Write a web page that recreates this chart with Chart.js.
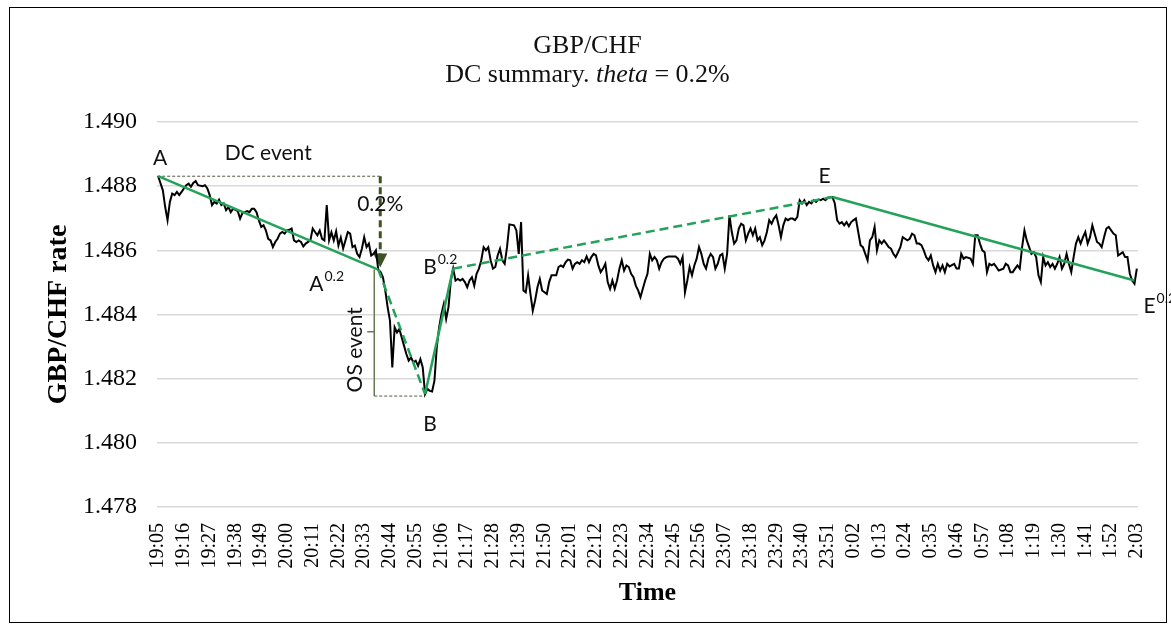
<!DOCTYPE html>
<html>
<head>
<meta charset="utf-8">
<title>GBP/CHF DC summary</title>
<script src="https://cdn.jsdelivr.net/npm/chart.js@4.4.1/dist/chart.umd.min.js"></script>
<style>
  html, body { margin: 0; padding: 0; background: #fff; }
</style>
</head>
<body>
<canvas id="chart" width="1171" height="633"></canvas>
<script>
// minutes after 19:05 and the GBP/CHF rate
const minutes = [
  0, 2, 3, 4, 5, 6, 7, 8, 9, 10, 11, 12, 13, 14, 15, 16, 17, 19, 20, 21,
  22, 23, 24, 25, 26, 27, 28, 29, 30, 31, 32, 34, 35, 36, 37, 38, 39, 40, 41, 42,
  43, 44, 45, 46, 47, 48, 49, 50, 51, 52, 53, 54, 55, 56, 57, 58, 59, 60, 61, 62,
  63, 65, 66, 67, 68, 69, 70, 71, 72, 73, 74, 75, 76, 77, 78, 79, 80, 81, 82, 83,
  84, 85, 86, 87, 88, 89, 90, 91, 92, 93, 94, 95, 96, 97, 98, 99, 100, 101, 102, 103,
  104, 105, 106, 107, 108, 109, 110, 111, 112, 113, 114, 115, 116, 117, 118, 119, 120, 121, 122, 123,
  124, 125, 126, 127, 128, 129, 130, 131, 132, 133, 134, 135, 136, 137, 138, 139, 140, 141, 142, 143,
  144, 145, 146, 147, 148, 149, 150, 152, 153, 154, 155, 156, 157, 158, 159, 160, 161, 162, 163, 164,
  166, 167, 168, 170, 171, 172, 173, 174, 175, 176, 177, 178, 179, 180, 181, 182, 183, 184, 185, 186,
  187, 188, 189, 190, 191, 192, 193, 194, 195, 196, 197, 198, 199, 200, 201, 202, 203, 204, 205, 206,
  207, 208, 209, 210, 211, 212, 213, 214, 215, 216, 217, 218, 219, 221, 222, 223, 224, 225, 226, 227,
  228, 229, 230, 231, 232, 233, 234, 235, 236, 237, 238, 239, 240, 241, 242, 243, 244, 245, 246, 247,
  248, 249, 250, 251, 252, 253, 254, 255, 256, 257, 258, 259, 260, 261, 262, 263, 264, 265, 266, 267,
  268, 269, 270, 271, 272, 273, 274, 275, 276, 277, 278, 279, 280, 281, 282, 283, 284, 285, 286, 288,
  289, 290, 291, 292, 293, 294, 295, 296, 297, 298, 300, 301, 303, 304, 305, 306, 307, 308, 309, 310,
  311, 312, 313, 314, 315, 316, 317, 318, 319, 320, 321, 322, 323, 324, 325, 326, 327, 328, 329, 330,
  331, 332, 333, 334, 335, 336, 337, 338, 340, 341, 342, 343, 344, 345, 347, 348, 349, 350, 351, 352,
  353, 354, 355, 356, 357, 358, 359, 361, 362, 363, 364, 365, 366, 367, 368, 369, 370, 371, 372, 373,
  374, 375, 376, 377, 378, 379, 380, 381, 382, 383, 384, 385, 386, 387, 388, 389, 390, 391, 392, 393,
  394, 395, 396, 397, 398, 399, 400, 401, 402, 403, 404, 405, 406, 408, 409, 410, 411, 412, 413, 414,
  415, 416, 417, 418
];
const rates = [
  1.48831, 1.48787, 1.48735, 1.48694, 1.48751, 1.48777, 1.48772, 1.48782, 1.48772, 1.48782,
  1.48793, 1.48803, 1.48808, 1.48798, 1.48810, 1.48816, 1.48803, 1.48800, 1.48803, 1.48793,
  1.48772, 1.48741, 1.48751, 1.48746, 1.48758, 1.48741, 1.48746, 1.48725, 1.48735, 1.48719,
  1.48730, 1.48722, 1.48699, 1.48716, 1.48719, 1.48722, 1.48719, 1.48730, 1.48730, 1.48719,
  1.48694, 1.48673, 1.48678, 1.48662, 1.48636, 1.48631, 1.48610, 1.48626, 1.48636, 1.48652,
  1.48657, 1.48652, 1.48662, 1.48664, 1.48668, 1.48631, 1.48626, 1.48631, 1.48626, 1.48612,
  1.48621, 1.48631, 1.48668, 1.48657, 1.48647, 1.48662, 1.48636, 1.48631, 1.48741, 1.48631,
  1.48656, 1.48631, 1.48659, 1.48615, 1.48640, 1.48606, 1.48631, 1.48657, 1.48652, 1.48610,
  1.48615, 1.48589, 1.48579, 1.48605, 1.48641, 1.48610, 1.48621, 1.48584, 1.48589, 1.48600,
  1.48540, 1.48532, 1.48516, 1.48475, 1.48423, 1.48381, 1.48235, 1.48360, 1.48344, 1.48355,
  1.48329, 1.48303, 1.48277, 1.48256, 1.48266, 1.48251, 1.48256, 1.48240, 1.48261, 1.48235,
  1.48152, 1.48168, 1.48162, 1.48160, 1.48194, 1.48298, 1.48360, 1.48402, 1.48433, 1.48386,
  1.48423, 1.48506, 1.48543, 1.48506, 1.48511, 1.48506, 1.48511, 1.48501, 1.48485, 1.48506,
  1.48516, 1.48490, 1.48527, 1.48543, 1.48569, 1.48610, 1.48600, 1.48610, 1.48569, 1.48543,
  1.48548, 1.48584, 1.48605, 1.48569, 1.48558, 1.48610, 1.48681, 1.48678, 1.48662, 1.48589,
  1.48688, 1.48475, 1.48469, 1.48522, 1.48464, 1.48412, 1.48444, 1.48485, 1.48511, 1.48475,
  1.48464, 1.48501, 1.48522, 1.48522, 1.48548, 1.48553, 1.48548, 1.48563, 1.48571, 1.48569,
  1.48543, 1.48558, 1.48563, 1.48558, 1.48569, 1.48563, 1.48581, 1.48563, 1.48579, 1.48589,
  1.48584, 1.48553, 1.48532, 1.48543, 1.48558, 1.48501, 1.48480, 1.48506, 1.48480, 1.48506,
  1.48543, 1.48569, 1.48537, 1.48553, 1.48548, 1.48527, 1.48516, 1.48490, 1.48475, 1.48454,
  1.48480, 1.48506, 1.48527, 1.48589, 1.48569, 1.48579, 1.48569, 1.48543, 1.48563, 1.48574,
  1.48579, 1.48581, 1.48581, 1.48581, 1.48574, 1.48558, 1.48579, 1.48469, 1.48506, 1.48548,
  1.48522, 1.48553, 1.48574, 1.48610, 1.48589, 1.48558, 1.48543, 1.48574, 1.48589, 1.48579,
  1.48543, 1.48558, 1.48584, 1.48589, 1.48543, 1.48589, 1.48709, 1.48657, 1.48621, 1.48631,
  1.48668, 1.48683, 1.48678, 1.48631, 1.48652, 1.48668, 1.48647, 1.48668, 1.48631, 1.48641,
  1.48616, 1.48631, 1.48657, 1.48694, 1.48683, 1.48699, 1.48709, 1.48678, 1.48641, 1.48678,
  1.48699, 1.48694, 1.48699, 1.48699, 1.48694, 1.48704, 1.48756, 1.48746, 1.48756, 1.48741,
  1.48751, 1.48746, 1.48756, 1.48751, 1.48758, 1.48756, 1.48761, 1.48756, 1.48764, 1.48766,
  1.48746, 1.48694, 1.48683, 1.48688, 1.48678, 1.48688, 1.48675, 1.48688, 1.48694, 1.48699,
  1.48616, 1.48610, 1.48569, 1.48631, 1.48641, 1.48673, 1.48600, 1.48631, 1.48621, 1.48631,
  1.48621, 1.48610, 1.48605, 1.48589, 1.48579, 1.48594, 1.48610, 1.48641, 1.48636, 1.48631,
  1.48636, 1.48652, 1.48647, 1.48621, 1.48621, 1.48616, 1.48600, 1.48579, 1.48569, 1.48584,
  1.48553, 1.48532, 1.48558, 1.48537, 1.48553, 1.48532, 1.48558, 1.48550, 1.48558, 1.48543,
  1.48543, 1.48589, 1.48574, 1.48579, 1.48574, 1.48558, 1.48647, 1.48647, 1.48621, 1.48600,
  1.48594, 1.48532, 1.48558, 1.48553, 1.48558, 1.48548, 1.48537, 1.48543, 1.48558, 1.48553,
  1.48532, 1.48532, 1.48543, 1.48553, 1.48543, 1.48610, 1.48662, 1.48631, 1.48610, 1.48589,
  1.48594, 1.48579, 1.48522, 1.48501, 1.48579, 1.48553, 1.48563, 1.48548, 1.48558, 1.48543,
  1.48558, 1.48579, 1.48543, 1.48558, 1.48589, 1.48558, 1.48532, 1.48579, 1.48621, 1.48641,
  1.48621, 1.48641, 1.48657, 1.48621, 1.48641, 1.48678, 1.48652, 1.48626, 1.48621, 1.48610,
  1.48641, 1.48668, 1.48673, 1.48652, 1.48647, 1.48584, 1.48589, 1.48594, 1.48579, 1.48579,
  1.48527, 1.48506, 1.48496, 1.48543
];

// directional change points: A, A^0.2, B, B^0.2, E, E^0.2
const dcNames = ['A', 'A', 'B', 'B', 'E', 'E'];
const dcSup = ['', '0.2', '', '0.2', '', '0.2'];
const dcMinutes = [0, 94, 114, 126, 288, 417];
const dcRates = [1.48831, 1.48540, 1.48152, 1.48543, 1.48766, 1.48506];

const tickLabels = [
  '19:05', '19:16', '19:27', '19:38', '19:49', '20:00', '20:11', '20:22', '20:33', '20:44',
  '20:55', '21:06', '21:17', '21:28', '21:39', '21:50', '22:01', '22:12', '22:23', '22:34',
  '22:45', '22:56', '23:07', '23:18', '23:29', '23:40', '23:51', '0:02', '0:13', '0:24',
  '0:35', '0:46', '0:57', '1:08', '1:19', '1:30', '1:41', '1:52', '2:03'
];
const yTicks = [1.478, 1.480, 1.482, 1.484, 1.486, 1.488, 1.490];

function minutesFrom(label) {
  const parts = label.split(':').map(Number);
  return (parts[0] * 60 + parts[1] - (19 * 60 + 5) + 1440) % 1440;
}
const tickMinutes = tickLabels.map(minutesFrom);

const GREEN = '#25a25a';
const OLIVE = '#3b5422';
const SERIF = '"Liberation Serif", "Times New Roman", serif';
const SANS = 'Lato, "Open Sans", sans-serif';

function labelWithSup(ctx, base, sup, x, y, align) {
  ctx.font = '21px ' + SANS;
  const w1 = ctx.measureText(base).width;
  ctx.font = '14px ' + SANS;
  const w2 = sup ? ctx.measureText(sup).width + 1 : 0;
  let left = x;
  if (align === 'center') left = x - (w1 + w2) / 2;
  if (align === 'right') left = x - (w1 + w2);
  ctx.textAlign = 'left';
  ctx.font = '21px ' + SANS;
  ctx.fillText(base, left, y);
  if (sup) {
    ctx.font = '14px ' + SANS;
    ctx.fillText(sup, left + w1 + 1, y - 10);
  }
}

const dcAnnotations = {
  id: 'dcAnnotations',
  beforeDraw(chart) {
    const ctx = chart.ctx;
    ctx.save();
    ctx.fillStyle = '#fff';
    ctx.fillRect(0, 0, chart.width, chart.height);
    ctx.restore();
  },
  beforeDatasetsDraw(chart) {
    const {ctx, scales: {x, y}} = chart;
    const px = i => x.getPixelForValue(dcMinutes[i]);
    const py = i => y.getPixelForValue(dcRates[i]);
    ctx.save();
    // DC event: dashed line from A across, then arrow down to A^0.2
    const arrowX = px(1) + 2;
    ctx.strokeStyle = '#55553f';
    ctx.lineWidth = 1;
    ctx.setLineDash([3, 2]);
    ctx.beginPath();
    ctx.moveTo(px(0) - 1, py(0));
    ctx.lineTo(arrowX, py(0));
    ctx.stroke();
    ctx.strokeStyle = OLIVE;
    ctx.lineWidth = 3;
    ctx.setLineDash([7, 4]);
    ctx.beginPath();
    ctx.moveTo(arrowX, py(0));
    ctx.lineTo(arrowX, py(1) - 14);
    ctx.stroke();
    ctx.setLineDash([]);
    ctx.fillStyle = OLIVE;
    ctx.beginPath();
    ctx.moveTo(arrowX - 7, py(1) - 16);
    ctx.lineTo(arrowX + 7, py(1) - 16);
    ctx.lineTo(arrowX, py(1) - 2);
    ctx.closePath();
    ctx.fill();
    // OS event bracket
    const bx = px(1) - 4;
    ctx.strokeStyle = '#6b7a55';
    ctx.lineWidth = 1.5;
    ctx.beginPath();
    ctx.moveTo(bx, py(1));
    ctx.lineTo(bx, py(2) + 2);
    const mid = (py(1) + py(2)) / 2;
    ctx.moveTo(bx, mid);
    ctx.lineTo(bx - 7, mid);
    ctx.stroke();
    ctx.strokeStyle = '#55553f';
    ctx.lineWidth = 1;
    ctx.setLineDash([3, 2]);
    ctx.beginPath();
    ctx.moveTo(bx, py(2) + 2);
    ctx.lineTo(px(2), py(2) + 2);
    ctx.stroke();
    ctx.restore();
  },
  afterDraw(chart) {
    const {ctx, scales: {x, y}} = chart;
    const px = i => x.getPixelForValue(dcMinutes[i]);
    const py = i => y.getPixelForValue(dcRates[i]);
    ctx.save();
    ctx.fillStyle = '#111';
    ctx.textBaseline = 'alphabetic';

    // title, second line with italic theta
    ctx.textAlign = 'center';
    ctx.font = '26px ' + SERIF;
    const cx = chart.width / 2 + 2;
    ctx.fillText('GBP/CHF', cx, 53);
    const parts = [['DC summary. ', ''], ['theta', 'italic '], [' = 0.2%', '']];
    let total = 0;
    parts.forEach(p => { ctx.font = p[1] + '26px ' + SERIF; total += ctx.measureText(p[0]).width; });
    let left = cx - total / 2;
    ctx.textAlign = 'left';
    parts.forEach(p => {
      ctx.font = p[1] + '26px ' + SERIF;
      ctx.fillText(p[0], left, 82);
      left += ctx.measureText(p[0]).width;
    });

    // point labels
    labelWithSup(ctx, dcNames[0], dcSup[0], px(0) + 2, py(0) - 11, 'center');
    labelWithSup(ctx, dcNames[1], dcSup[1], px(1) - 69, py(1) + 21, 'left');
    labelWithSup(ctx, dcNames[2], dcSup[2], px(2) + 5, py(2) + 37, 'center');
    labelWithSup(ctx, dcNames[3], dcSup[3], px(3) - 30, py(3) + 5, 'left');
    labelWithSup(ctx, dcNames[4], dcSup[4], px(4) - 8, py(4) - 14, 'center');
    labelWithSup(ctx, dcNames[5], dcSup[5], px(5) + 9, py(5) + 33, 'left');

    ctx.font = '21px ' + SANS;
    ctx.textAlign = 'center';
    ctx.fillText('DC event', (px(0) + px(1)) / 2, py(0) - 16);
    ctx.fillText('0.2%', px(1) + 2, (py(0) + py(1)) / 2 - 12);

    ctx.save();
    ctx.translate(px(1) - 23, (py(1) + py(2)) / 2 + 18);
    ctx.rotate(-Math.PI / 2);
    ctx.textBaseline = 'middle';
    ctx.fillText('OS event', 0, 0);
    ctx.restore();

    // outer frame
    ctx.strokeStyle = '#000';
    ctx.lineWidth = 1;
    ctx.strokeRect(9.5, 7.5, 1157, 615);
    ctx.restore();
  }
};

new Chart(document.getElementById('chart'), {
  type: 'line',
  data: {
    datasets: [{
      label: 'DC summary',
      data: dcMinutes.map((m, i) => ({x: m, y: dcRates[i]})),
      borderColor: GREEN,
      borderWidth: 2.5,
      pointRadius: 0,
      segment: {
        borderDash: c => (c.p0DataIndex === 1 || c.p0DataIndex === 3) ? [9, 5] : undefined
      }
    }, {
      label: 'GBP/CHF',
      data: minutes.map((m, i) => ({x: m, y: rates[i]})),
      borderColor: '#000',
      borderWidth: 2,
      pointRadius: 0
    }]
  },
  options: {
    responsive: false,
    animation: false,
    layout: { padding: { top: 122, right: 33, bottom: 0, left: 0 } },
    plugins: { legend: { display: false }, tooltip: { enabled: false } },
    scales: {
      x: {
        type: 'linear',
        min: -0.5,
        max: 418.5,
        afterBuildTicks: s => { s.ticks = tickMinutes.map(v => ({value: v})); },
        afterFit: s => { s.height = 126; },
        grid: { display: false },
        border: { display: false },
        ticks: {
          autoSkip: false,
          minRotation: 90,
          maxRotation: 90,
          padding: 8,
          color: '#000',
          font: { family: SERIF, size: 20 },
          callback: (v, i) => tickLabels[i]
        },
        title: {
          display: true,
          text: 'Time',
          color: '#000',
          font: { family: SERIF, size: 26, weight: 'bold' },
          padding: { top: 0, bottom: 24 }
        }
      },
      y: {
        min: 1.478,
        max: 1.490,
        afterBuildTicks: s => { s.ticks = yTicks.map(v => ({value: v})); },
        afterFit: s => { s.width = 157; },
        grid: { color: '#d9d9d9', lineWidth: 1.5, drawTicks: false },
        border: { display: false },
        ticks: {
          padding: 20,
          color: '#000',
          font: { family: SERIF, size: 24 },
          callback: v => v.toFixed(3)
        },
        title: {
          display: true,
          text: 'GBP/CHF rate',
          color: '#000',
          font: { family: SERIF, size: 28, weight: 'bold' },
          padding: { top: 42, bottom: 0 }
        }
      }
    }
  },
  plugins: [dcAnnotations]
});
</script>
</body>
</html>
